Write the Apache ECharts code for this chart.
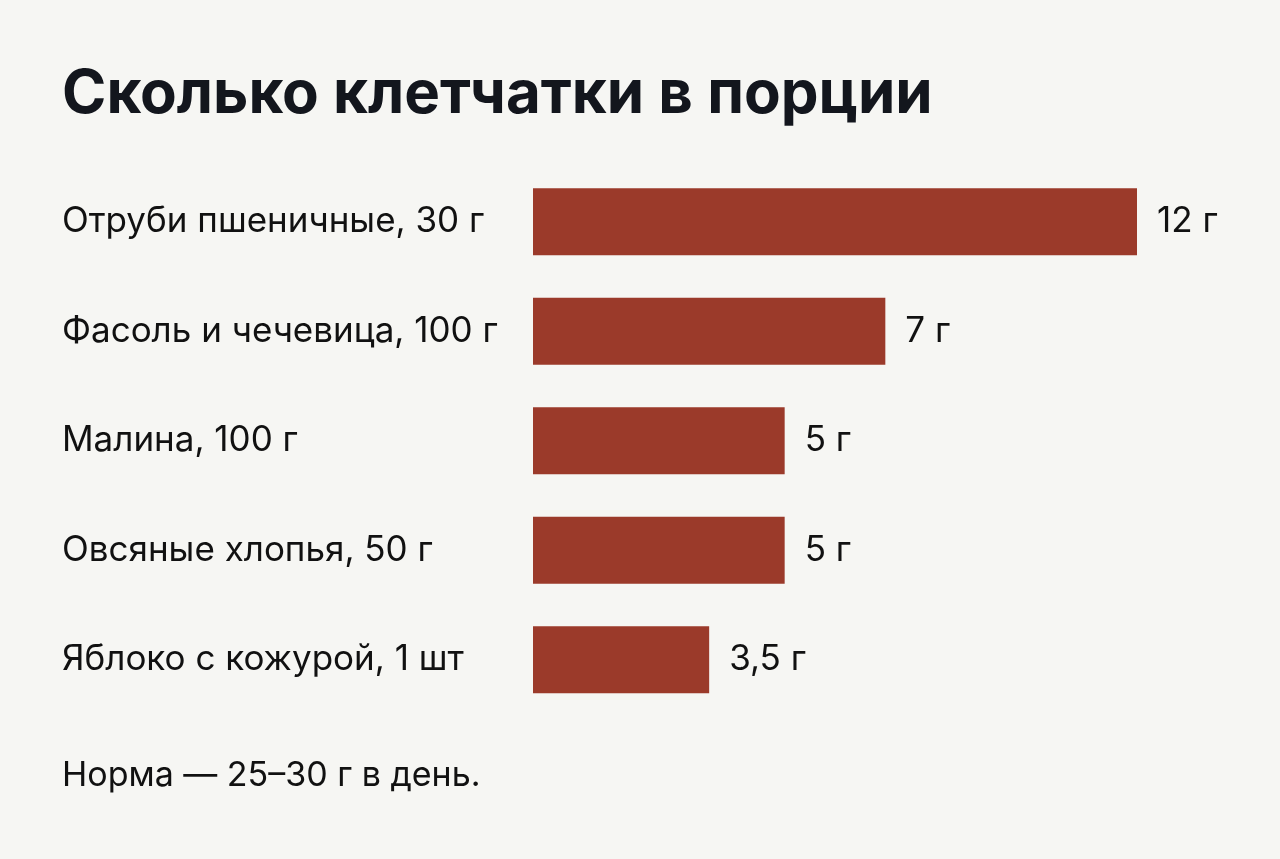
<!DOCTYPE html>
<html lang="ru">
<head>
    <meta charset="UTF-8">
    <title>Сколько клетчатки в порции</title>
    <script src="https://cdn.jsdelivr.net/npm/echarts@6/dist/echarts.min.js"></script>
    <style>
        html, body { margin: 0; padding: 0; background: #f6f6f3; }
        #chart { width: 1280px; height: 859px; }
    </style>
</head>
<body>
    <div id="chart"></div>
    <script>
        // данные
        const categories = [
            'Отруби пшеничные, 30 г',
            'Фасоль и чечевица, 100 г',
            'Малина, 100 г',
            'Овсяные хлопья, 50 г',
            'Яблоко с кожурой, 1 шт'
        ];
        const fiberGrams = [12, 7, 5, 5, 3.5];
        const valueLabels = ['12 г', '7 г', '5 г', '5 г', '3,5 г'];

        const chart = echarts.init(document.getElementById('chart'));
        const font = 'Inter, "Noto Sans", sans-serif';

        chart.setOption({
            backgroundColor: '#f6f6f3',
            animation: false,
            title: [
                {
                    text: 'Сколько клетчатки в порции',
                    left: 57,
                    top: 60,
                    textStyle: { fontFamily: font, fontSize: 60, fontWeight: 'bold', color: '#13161d' }
                },
                {
                    text: 'Норма — 25–30 г в день.',
                    left: 57,
                    top: 754,
                    textStyle: { fontFamily: font, fontSize: 34, fontWeight: 'normal', color: '#111111' }
                }
            ],
            grid: { left: 533, right: 143, top: 167, bottom: 144.5 },
            xAxis: {
                type: 'value',
                min: 0,
                max: 12,
                show: false
            },
            yAxis: {
                type: 'category',
                data: categories,
                inverse: true,
                axisLine: { show: false },
                axisTick: { show: false },
                splitLine: { show: false },
                axisLabel: {
                    align: 'left',
                    margin: 471,
                    fontFamily: font,
                    fontSize: 35,
                    color: '#111111'
                }
            },
            series: [{
                type: 'bar',
                data: fiberGrams,
                barWidth: 67,
                itemStyle: { color: '#9b3a2a' },
                label: {
                    show: true,
                    position: 'right',
                    distance: 20,
                    fontFamily: font,
                    fontSize: 35,
                    color: '#111111',
                    formatter: p => valueLabels[p.dataIndex]
                }
            }]
        });
    </script>
</body>
</html>
